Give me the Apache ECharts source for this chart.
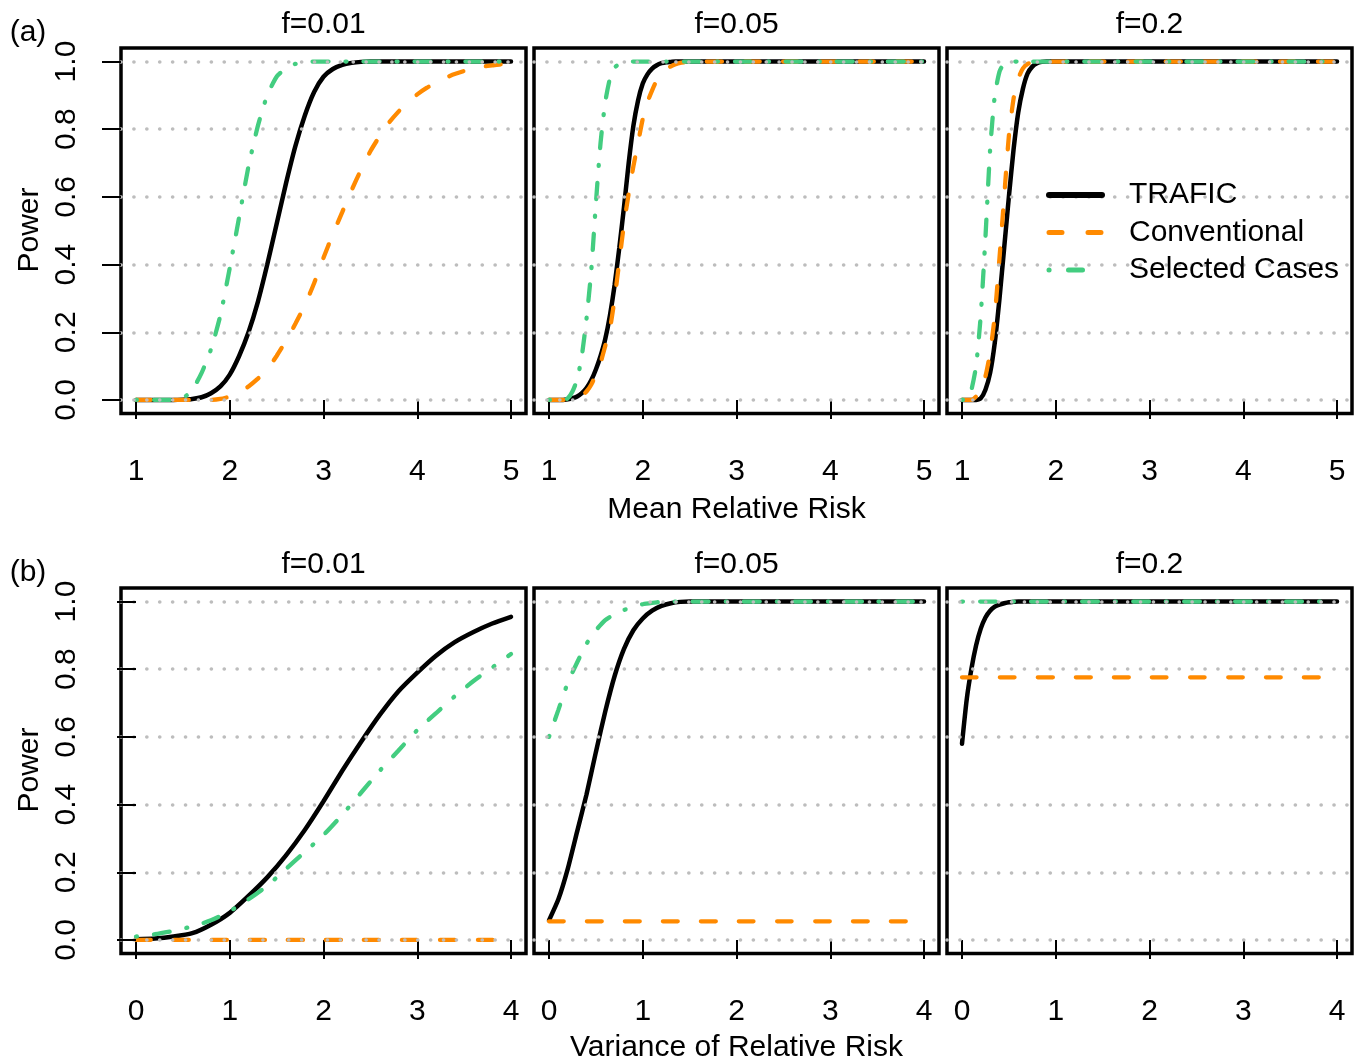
<!DOCTYPE html>
<html><head><meta charset="utf-8">
<script src="https://cdn.jsdelivr.net/npm/echarts@6/dist/echarts.min.js"></script>
<style>html,body{margin:0;padding:0;background:#fff}#c{width:1360px;height:1063px}</style>
</head><body><div id="c"></div>
<script>
// ---------- labels ----------
const seriesNames = ['TRAFIC', 'Conventional', 'Selected Cases'];
const panelTitles = ['f=0.01', 'f=0.05', 'f=0.2'];
const yTicks = [0, 0.2, 0.4, 0.6, 0.8, 1.0];
const xTicksMean = [1, 2, 3, 4, 5];
const xTicksVar = [0, 1, 2, 3, 4];
const xNameTop = 'Mean Relative Risk';
const xNameBottom = 'Variance of Relative Risk';
const yName = 'Power';

// ---------- (a) Mean Relative Risk ----------
const a1_x = [1.0,1.1,1.2,1.3,1.4,1.5,1.6,1.7,1.8,1.9,2.0,2.1,2.2,2.3,2.4,2.5,2.6,2.7,2.8,2.9,3.0,3.1,3.2,3.3,3.4,3.5,3.6,3.7,3.8,3.9,4.0,4.1,4.2,4.3,4.4,4.5,4.6,4.7,4.8,4.9,5.0];
const a1_trafic = [0,0,0,0,0,0.001,0.003,0.008,0.02,0.04,0.075,0.13,0.2,0.29,0.4,0.52,0.64,0.75,0.84,0.91,0.955,0.978,0.99,0.996,0.999,1,1,1,1,1,1,1,1,1,1,1,1,1,1,1,1];
const a1_conv = [0,0,0,0,0,0,0,0,0,0.003,0.01,0.022,0.04,0.063,0.09,0.13,0.175,0.225,0.28,0.345,0.42,0.49,0.555,0.62,0.68,0.735,0.78,0.82,0.852,0.88,0.903,0.922,0.938,0.952,0.963,0.972,0.979,0.985,0.989,0.992,0.995];
const a1_sel = [0,0,0,0,0,0.005,0.03,0.08,0.15,0.25,0.39,0.54,0.69,0.81,0.9,0.955,0.98,0.993,0.998,1,1,1,1,1,1,1,1,1,1,1,1,1,1,1,1,1,1,1,1,1,1];

const a2_x = [1.0,1.05,1.1,1.15,1.2,1.25,1.3,1.35,1.4,1.45,1.5,1.55,1.6,1.65,1.7,1.75,1.8,1.85,1.9,1.95,2.0,2.05,2.1,2.15,2.2,2.25,2.3,2.35,2.4,2.45,2.5,3.0,3.5,4.0,4.5,5.0];
const a2_trafic = [0,0,0,0,0.002,0.005,0.01,0.02,0.035,0.058,0.09,0.13,0.18,0.25,0.34,0.45,0.57,0.7,0.81,0.885,0.935,0.962,0.979,0.989,0.995,0.998,0.999,1,1,1,1,1,1,1,1,1];
const a2_conv = [0,0,0,0,0,0.002,0.005,0.012,0.025,0.045,0.075,0.11,0.16,0.21,0.3,0.41,0.52,0.61,0.69,0.76,0.83,0.88,0.915,0.945,0.963,0.977,0.986,0.992,0.996,0.998,1,1,1,1,1,1];
const a2_sel = [0,0,0,0,0.005,0.025,0.06,0.13,0.24,0.38,0.58,0.76,0.88,0.95,0.982,0.993,0.998,1,1,1,1,1,1,1,1,1,1,1,1,1,1,1,1,1,1,1];

const a3_x = [1.0,1.05,1.1,1.15,1.2,1.25,1.3,1.35,1.4,1.45,1.5,1.55,1.6,1.65,1.7,1.75,1.8,1.85,1.9,1.95,2.0,2.05,2.1,2.15,2.2,2.25,2.3,2.35,2.4,2.45,2.5,3.0,3.5,4.0,4.5,5.0];
const a3_trafic = [0,0,0,0,0.005,0.03,0.08,0.17,0.3,0.45,0.6,0.74,0.85,0.92,0.965,0.985,0.995,0.999,1,1,1,1,1,1,1,1,1,1,1,1,1,1,1,1,1,1];
const a3_conv = [0,0,0,0.01,0.03,0.07,0.14,0.25,0.42,0.6,0.78,0.89,0.95,0.98,0.993,0.998,1,1,1,1,1,1,1,1,1,1,1,1,1,1,1,1,1,1,1,1];
const a3_sel = [0,0,0.03,0.1,0.25,0.48,0.74,0.9,0.97,0.995,1,1,1,1,1,1,1,1,1,1,1,1,1,1,1,1,1,1,1,1,1,1,1,1,1,1];

// ---------- (b) Variance of Relative Risk ----------
const b1_x = [0,0.2,0.4,0.6,0.8,1.0,1.2,1.4,1.6,1.8,2.0,2.2,2.4,2.6,2.8,3.0,3.2,3.4,3.6,3.8,4.0];
const b1_trafic = [0.002,0.004,0.01,0.02,0.045,0.08,0.13,0.185,0.25,0.325,0.41,0.5,0.585,0.665,0.735,0.79,0.84,0.88,0.91,0.935,0.955];
const b1_conv = [0,0,0,0,0,0,0,0,0,0,0,0,0,0,0,0,0,0,0,0,0];
const b1_sel = [0.01,0.017,0.027,0.04,0.058,0.085,0.12,0.16,0.21,0.26,0.31,0.37,0.435,0.5,0.56,0.62,0.67,0.72,0.765,0.805,0.845];

const b2_x = [0,0.1,0.2,0.3,0.4,0.5,0.6,0.7,0.8,0.9,1.0,1.1,1.2,1.3,1.4,1.5,2.0,2.5,3.0,3.5,4.0];
const b2_trafic = [0.058,0.12,0.21,0.32,0.43,0.555,0.675,0.78,0.86,0.915,0.95,0.973,0.987,0.995,0.999,1,1,1,1,1,1];
const b2_conv = [0.055,0.055,0.055,0.055,0.055,0.055,0.055,0.055,0.055,0.055,0.055,0.055,0.055,0.055,0.055,0.055,0.055,0.055,0.055,0.055,0.055];
const b2_sel = [0.6,0.68,0.76,0.82,0.875,0.915,0.945,0.963,0.975,0.985,0.992,0.996,0.999,1,1,1,1,1,1,1,1];

const b3_x = [0,0.05,0.1,0.15,0.2,0.25,0.3,0.35,0.4,0.45,0.5,0.55,0.6,0.8,1.0,1.5,2.0,2.5,3.0,3.5,4.0];
const b3_trafic = [0.58,0.71,0.8,0.87,0.92,0.953,0.973,0.985,0.991,0.995,0.998,0.999,1,1,1,1,1,1,1,1,1];
const b3_conv = [0.776,0.776,0.776,0.776,0.776,0.776,0.776,0.776,0.776,0.776,0.776,0.776,0.776,0.776,0.776,0.776,0.776,0.776,0.776,0.776,0.776];
const b3_sel = [1,1,1,1,1,1,1,1,1,1,1,1,1,1,1,1,1,1,1,1,1];

// ---------- build ----------
const FONT = '"Liberation Sans", Arial, Helvetica, sans-serif';
const FS = 30;
const panels = [
  {x: a1_x, ys: [a1_trafic, a1_conv, a1_sel], row: 0, col: 0},
  {x: a2_x, ys: [a2_trafic, a2_conv, a2_sel], row: 0, col: 1},
  {x: a3_x, ys: [a3_trafic, a3_conv, a3_sel], row: 0, col: 2},
  {x: b1_x, ys: [b1_trafic, b1_conv, b1_sel], row: 1, col: 0},
  {x: b2_x, ys: [b2_trafic, b2_conv, b2_sel], row: 1, col: 1},
  {x: b3_x, ys: [b3_trafic, b3_conv, b3_sel], row: 1, col: 2}
];
const colLeft = [121, 534, 947];
const rowTop = [48, 588];
const GW = 405, GH = 365.5;
const lineStyles = [
  {color: '#000000', width: 4.5, type: 'solid', cap: 'round'},
  {color: '#ff8a00', width: 4.3, type: [14.7, 23.3], cap: 'round'},
  {color: '#43cd80', width: 4.3, type: [1, 17, 16, 17], cap: 'round'}
];

const grids = [], xAxes = [], yAxes = [], series = [];
panels.forEach((p, i) => {
  grids.push({left: colLeft[p.col], top: rowTop[p.row], width: GW, height: GH,
    show: true, borderColor: '#000', borderWidth: 3.5, backgroundColor: 'transparent', containLabel: false});
  const ticks = p.row === 0 ? xTicksMean : xTicksVar;
  const lo = ticks[0], hi = ticks[ticks.length - 1];
  const pad = (hi - lo) * 0.04;
  xAxes.push({type: 'value', gridIndex: i, min: lo - pad, max: hi + pad,
    axisLine: {show: false},
    axisTick: {show: true, length: 19, inside: false, customValues: ticks, lineStyle: {color: '#000', width: 2}},
    axisLabel: {show: true, customValues: ticks, margin: 43, fontSize: FS, fontFamily: FONT, color: '#000',
      formatter: v => String(v)},
    splitLine: {show: false}});
  yAxes.push({type: 'value', gridIndex: i, min: -0.04, max: 1.04, z: 10,
    axisLine: {show: false},
    axisTick: {show: p.col === 0, length: 19, customValues: yTicks, lineStyle: {color: '#000', width: 2}},
    axisLabel: {show: p.col === 0, customValues: yTicks, rotate: 90, margin: 39, fontSize: FS, fontFamily: FONT, color: '#000',
      formatter: v => v.toFixed(1)},
    splitLine: {show: true, lineStyle: {color: '#bdbdbd', width: 3.6, type: [0.1, 12.8], cap: 'round'}}});
  p.ys.forEach((ys, k) => {
    series.push({
      name: seriesNames[k], type: 'line', xAxisIndex: i, yAxisIndex: i,
      data: p.x.map((xv, j) => [xv, ys[j]]),
      symbol: 'none', smooth: 0.2, silent: true, z: 2 + k,
      lineStyle: Object.assign({}, lineStyles[k])
    });
  });
});

const graphic = [];
function txt(text, x, y, rot) {
  graphic.push({type: 'text', x: x, y: y, rotation: rot || 0, silent: true,
    style: {text: text, fontSize: FS, fontFamily: FONT, fill: '#000', align: 'center', verticalAlign: 'middle'}});
}
[0, 1].forEach(r => {
  panelTitles.forEach((t, c) => txt(t, colLeft[c] + GW / 2, r === 0 ? 25 : 565));
});
txt('(a)', 28, 33);
txt('(b)', 28, 573);
txt(yName, 30, 230, Math.PI / 2);
txt(yName, 30, 770, Math.PI / 2);
txt(xNameTop, colLeft[1] + GW / 2, 509.5);
txt(xNameBottom, colLeft[1] + GW / 2, 1047.5);

const chart = echarts.init(document.getElementById('c'), null, {renderer: 'canvas'});
chart.setOption({
  animation: false,
  backgroundColor: '#ffffff',
  grid: grids, xAxis: xAxes, yAxis: yAxes, series: series,
  legend: {
    z: 20,
    left: 1046, top: 180, orient: 'vertical', padding: 0, itemWidth: 53, itemHeight: 2, itemGap: 7.5,
    selectedMode: false,
    itemStyle: {opacity: 0},
    textStyle: {fontSize: FS, fontFamily: FONT, color: '#000', lineHeight: 30, padding: [0, 0, 0, 22]},
    data: [
      {name: seriesNames[0], lineStyle: {width: 6, type: 'solid', cap: 'round', color: '#000000'}},
      {name: seriesNames[1], lineStyle: {width: 5, type: [13, 26], cap: 'round', color: '#ff8a00'}},
      {name: seriesNames[2], lineStyle: {width: 5, type: [0.1, 19.4, 14, 20.5], cap: 'round', color: '#43cd80'}}
    ]
  },
  graphic: graphic
});
</script>
</body></html>
